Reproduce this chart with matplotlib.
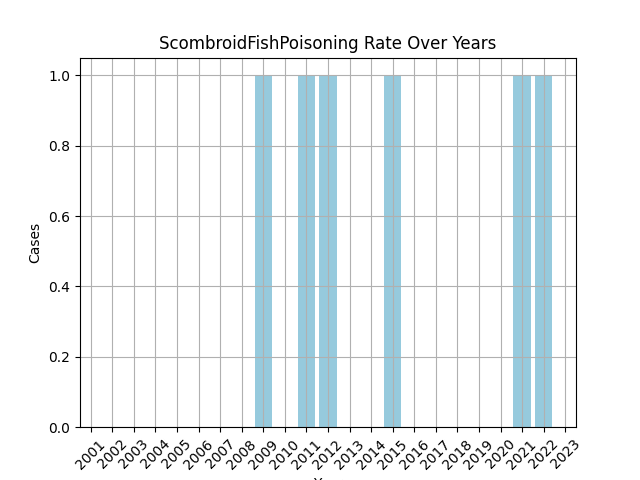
import matplotlib
matplotlib.use("Agg")
import matplotlib.pyplot as plt

years = list(range(2001, 2024))
case_years = [2009, 2011, 2012, 2015, 2021, 2022]
cases = [1 if y in case_years else 0 for y in years]

fig = plt.figure(figsize=(6.4, 4.8), dpi=100)
plt.bar(years, cases, color="#96cadd", width=0.8)
plt.title("ScombroidFishPoisoning Rate Over Years")
plt.xlabel("Year")
plt.ylabel("Cases")
plt.xticks(years, rotation=45)
plt.xlim(2000.5, 2023.5)
plt.grid(True)
plt.savefig("out.png")
